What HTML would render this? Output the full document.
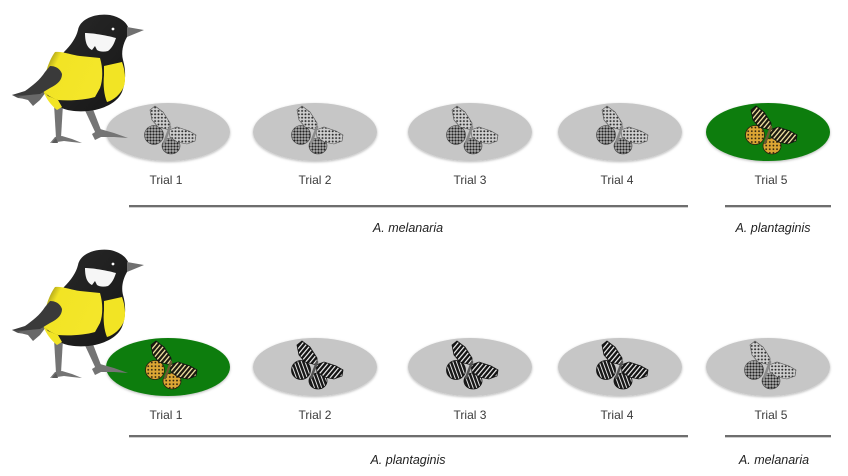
<!DOCTYPE html>
<html><head><meta charset="utf-8"><style>
html,body{margin:0;padding:0;background:#fff;}
svg{display:block;}
</style></head><body>
<svg width="848" height="476" viewBox="0 0 848 476" xmlns="http://www.w3.org/2000/svg">
<defs>
  <filter id="sh" x="-10%" y="-20%" width="120%" height="150%">
    <feDropShadow dx="0" dy="1" stdDeviation="1.3" flood-color="#000" flood-opacity="0.28"/>
  </filter>
  <linearGradient id="yel" x1="0" y1="0" x2="1" y2="0.4">
    <stop offset="0" stop-color="#6b6210"/>
    <stop offset="0.28" stop-color="#f2e424"/>
    <stop offset="1" stop-color="#f4e62a"/>
  </linearGradient>
  <linearGradient id="head" x1="0" y1="0" x2="1" y2="1">
    <stop offset="0" stop-color="#2a2a2a"/>
    <stop offset="1" stop-color="#161616"/>
  </linearGradient>
  <pattern id="melF" width="3.4" height="3.4" patternUnits="userSpaceOnUse">
    <rect width="3.4" height="3.4" fill="#cfcfcf"/>
    <circle cx="1.7" cy="1.7" r="1.0" fill="#2e2e2e"/>
  </pattern>
  <pattern id="melH" width="3" height="3" patternUnits="userSpaceOnUse">
    <rect width="3" height="3" fill="#b8b8b8"/>
    <circle cx="1.5" cy="1.5" r="1.15" fill="#222"/>
  </pattern>
  <pattern id="bw" width="3.6" height="3.6" patternUnits="userSpaceOnUse" patternTransform="rotate(40)">
    <rect width="3.6" height="3.6" fill="#141414"/>
    <rect width="1.2" height="3.6" fill="#f2f2f2"/>
  </pattern>
  <pattern id="bwH" width="3.4" height="3.4" patternUnits="userSpaceOnUse" patternTransform="rotate(-20)">
    <rect width="3.4" height="3.4" fill="#181818"/>
    <rect width="1" height="3.4" fill="#e6e6e6"/>
  </pattern>
  <pattern id="colF" width="3.6" height="3.6" patternUnits="userSpaceOnUse" patternTransform="rotate(40)">
    <rect width="3.6" height="3.6" fill="#1c1a10"/>
    <rect width="1.3" height="3.6" fill="#efe2a0"/>
  </pattern>
  <pattern id="colH" width="3.6" height="3.6" patternUnits="userSpaceOnUse">
    <rect width="3.6" height="3.6" fill="#dca634"/>
    <circle cx="1.8" cy="1.8" r="0.9" fill="#2a200c"/>
  </pattern>

  <g id="bfM">
    <ellipse cx="-13" cy="2" rx="9.5" ry="9.5" fill="url(#melH)" stroke="#444" stroke-width="0.6"/>
    <ellipse cx="4" cy="13" rx="9" ry="8" fill="url(#melH)" stroke="#444" stroke-width="0.6"/>
    <path d="M3,-3 L-9,-6 L-15,-13 L-17,-23 L-12,-27 L-4,-21 L3,-10 Z" fill="url(#melF)" stroke="#555" stroke-width="0.6"/>
    <path d="M2,-3 L10,-6 L22,-2 L29,2 L28,8 L20,11 L10,9 L3,4 Z" fill="url(#melF)" stroke="#555" stroke-width="0.6"/>
    <line x1="3" y1="-6" x2="-3" y2="10" stroke="#8a8a8a" stroke-width="2.5" stroke-linecap="round"/>
  </g>
  <g id="bfP">
    <ellipse cx="-13" cy="2" rx="9.5" ry="9.5" fill="url(#bwH)" stroke="#111" stroke-width="0.8"/>
    <ellipse cx="4" cy="13" rx="9" ry="8" fill="url(#bwH)" stroke="#111" stroke-width="0.8"/>
    <path d="M3,-3 L-9,-6 L-15,-13 L-17,-23 L-12,-27 L-4,-21 L3,-10 Z" fill="url(#bw)" stroke="#111" stroke-width="0.8"/>
    <path d="M2,-3 L10,-6 L22,-2 L29,2 L28,8 L20,11 L10,9 L3,4 Z" fill="url(#bw)" stroke="#111" stroke-width="0.8"/>
    <line x1="3" y1="-6" x2="-3" y2="10" stroke="#555" stroke-width="2.5" stroke-linecap="round"/>
  </g>
  <g id="bfC">
    <ellipse cx="-13" cy="2" rx="9.5" ry="9.5" fill="url(#colH)" stroke="#2a2210" stroke-width="0.8"/>
    <ellipse cx="4" cy="13" rx="9" ry="8" fill="url(#colH)" stroke="#2a2210" stroke-width="0.8"/>
    <path d="M3,-3 L-9,-6 L-15,-13 L-17,-23 L-12,-27 L-4,-21 L3,-10 Z" fill="url(#colF)" stroke="#111" stroke-width="0.8"/>
    <path d="M2,-3 L10,-6 L22,-2 L29,2 L28,8 L20,11 L10,9 L3,4 Z" fill="url(#colF)" stroke="#111" stroke-width="0.8"/>
    <line x1="3" y1="-6" x2="-3" y2="10" stroke="#6a5a30" stroke-width="2.5" stroke-linecap="round"/>
  </g>

  <g id="bird">
    <path d="M12,95 L30,91 L42,84 L50,90 L40,97 L33,104 L28,99 L18,98 Z" fill="#4a4a4a"/>
    <path d="M16,97 L36,94 L46,92 L40,100 L33,106 L28,100 Z" fill="#686868"/>
    <path d="M54,104 L63,104 L61,138 L56,138 Z" fill="#747474"/>
    <path d="M50,143 L55,137 L62,136 L72,139 L82,143 L72,142 L64,141 L57,142 Z" fill="#747474"/>
    <path d="M52,143 L56,138 L58,143 Z" fill="#5a5a5a"/>
    <path d="M82,104 L91,104 L101,130 L96,134 Z" fill="#747474"/>
    <path d="M92,134 L100,129 L114,133 L128,138 L114,137 L101,137 L95,140 Z" fill="#747474"/>
    <path d="M78,30 C80,19 95,13 110,15 C120,17 126,22 128,27 L127,37 C123,44 121,52 123,60 C126,70 126,82 122,92 C118,101 108,107 95,110 C85,112 70,112 62,108 C52,104 46,98 44,92 C46,78 54,62 64,52 C71,45 76,38 78,30 Z" fill="url(#head)"/>
    <path d="M55,52 C62,51 72,55 80,56 L100,58 C103,68 103,80 100,88 L95,97 C85,100 70,101 58,100 C52,98 46,95 43,90 C44,75 49,60 55,52 Z" fill="url(#yel)"/>
    <path d="M104,66 L122,62 C125,70 126,80 124,86 C121,94 114,100 107,102 C104,95 103,85 104,75 Z" fill="#f2e424"/>
    <path d="M43,90 C46,99 51,105 57,110 L62,107 L58,100 L48,96 Z" fill="#f2e424"/>
    <path d="M50,66 C55,66 60,68 62,74 C62,80 58,84 50,88 L40,94 L28,95 L12,95 L25,91 C32,86 40,80 45,72 Z" fill="#3a3a3a"/>
    <path d="M85,33 C92,33 105,35 116,38 C114,44 112,48 108,51 C104,52 100,52 97,50 L95,46 L92,50 C88,48 85,44 85,33 Z" fill="#f6f6f6"/>
    <path d="M127,27 L144,30 L127,37 Z" fill="#707070"/>
    <circle cx="113" cy="29" r="1.4" fill="#fff"/>
  </g>
</defs>

<g filter="url(#sh)">
  <ellipse cx="168" cy="132" rx="62" ry="29" fill="#c6c6c6"/>
  <ellipse cx="315" cy="132" rx="62" ry="29" fill="#c6c6c6"/>
  <ellipse cx="470" cy="132" rx="62" ry="29" fill="#c6c6c6"/>
  <ellipse cx="620" cy="132" rx="62" ry="29" fill="#c6c6c6"/>
  <ellipse cx="768" cy="132" rx="62" ry="29" fill="#0b7d0b"/>
</g>
<use href="#bfM" x="167" y="133"/>
<use href="#bfM" x="314" y="133"/>
<use href="#bfM" x="469" y="133"/>
<use href="#bfM" x="619" y="133"/>
<use href="#bfC" x="768" y="133"/>

<g filter="url(#sh)">
  <ellipse cx="168" cy="367" rx="62" ry="29" fill="#0b7d0b"/>
  <ellipse cx="315" cy="367" rx="62" ry="29" fill="#c6c6c6"/>
  <ellipse cx="470" cy="367" rx="62" ry="29" fill="#c6c6c6"/>
  <ellipse cx="620" cy="367" rx="62" ry="29" fill="#c6c6c6"/>
  <ellipse cx="768" cy="367" rx="62" ry="29" fill="#c6c6c6"/>
</g>
<use href="#bfC" x="168" y="368"/>
<use href="#bfP" x="314" y="368"/>
<use href="#bfP" x="469" y="368"/>
<use href="#bfP" x="619" y="368"/>
<use href="#bfM" x="767" y="368"/>

<use href="#bird"/>
<use href="#bird" y="235"/>

<g font-family="Liberation Sans, Arial, sans-serif" font-size="12" fill="#3a3a3a" text-anchor="middle">
  <text x="166" y="184">Trial 1</text>
  <text x="315" y="184">Trial 2</text>
  <text x="470" y="184">Trial 3</text>
  <text x="617" y="184">Trial 4</text>
  <text x="771" y="184">Trial 5</text>
  <text x="166" y="419">Trial 1</text>
  <text x="315" y="419">Trial 2</text>
  <text x="470" y="419">Trial 3</text>
  <text x="617" y="419">Trial 4</text>
  <text x="771" y="419">Trial 5</text>
</g>

<g>
  <rect x="129" y="205" width="559" height="2" fill="#6e6e6e"/>
  <rect x="129" y="207" width="559" height="1" fill="#cfcfcf"/>
  <rect x="725" y="205" width="106" height="2" fill="#6e6e6e"/>
  <rect x="725" y="207" width="106" height="1" fill="#cfcfcf"/>
  <rect x="129" y="435" width="559" height="2" fill="#6e6e6e"/>
  <rect x="129" y="437" width="559" height="1" fill="#cfcfcf"/>
  <rect x="725" y="435" width="106" height="2" fill="#6e6e6e"/>
  <rect x="725" y="437" width="106" height="1" fill="#cfcfcf"/>
</g>

<g font-family="Liberation Sans, Arial, sans-serif" font-size="12.5" font-style="italic" fill="#222" text-anchor="middle">
  <text x="408" y="232">A. melanaria</text>
  <text x="773" y="232">A. plantaginis</text>
  <text x="408" y="464">A. plantaginis</text>
  <text x="774" y="464">A. melanaria</text>
</g>
</svg>
</body></html>
